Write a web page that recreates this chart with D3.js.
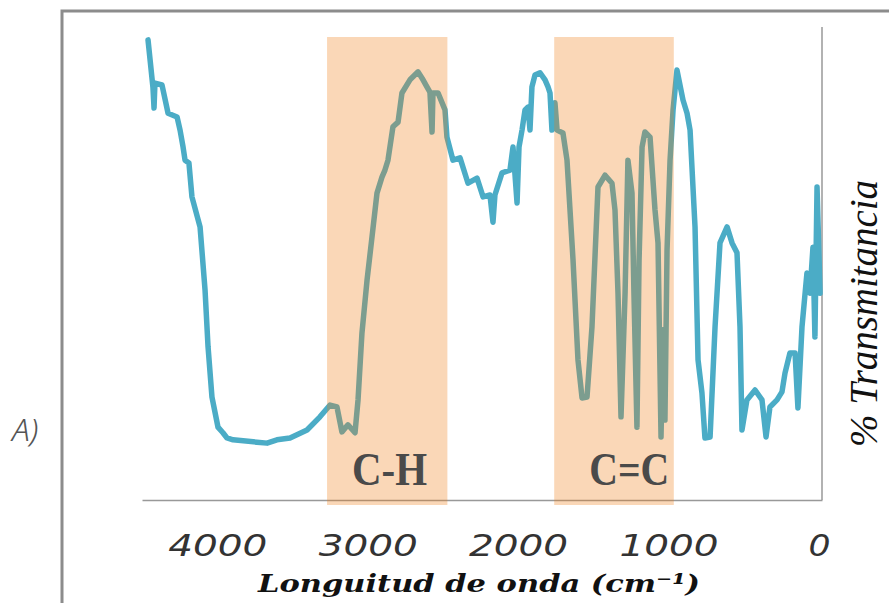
<!DOCTYPE html>
<html>
<head>
<meta charset="utf-8">
<script src="https://cdn.jsdelivr.net/npm/d3@7"></script>
<style>
  body { margin: 0; background: #fff; }
  svg { display: block; }
</style>
</head>
<body>
<svg id="chart"></svg>
<script>
// IR spectrum: wavenumber (cm-1) and % transmittance
const wavenumber = [4460, 4427, 4420, 4414, 4367, 4327, 4267, 4247, 4227, 4214, 4188, 4168, 4114, 4081, 4061, 4035,
  3995, 3962, 3935, 3895, 3736, 3669, 3603, 3516, 3403, 3317, 3250, 3204, 3171, 3131, 3084, 3064, 3038, 3004,
  2971, 2938, 2905, 2885, 2865, 2832, 2798, 2772, 2719, 2665, 2632, 2606, 2586, 2572, 2566, 2532, 2486, 2473,
  2433, 2386, 2333, 2273, 2233, 2187, 2167, 2154, 2107, 2054, 2034, 2007, 1994, 1974, 1954, 1934, 1921, 1908,
  1888, 1854, 1821, 1801, 1788, 1775, 1755, 1741, 1702, 1675, 1635, 1602, 1575, 1542, 1509, 1469, 1422, 1376,
  1356, 1336, 1316, 1289, 1270, 1243, 1230, 1210, 1196, 1176, 1157, 1123, 1090, 1070, 1050, 1037, 1024, 1010,
  990, 970, 944, 904, 877, 857, 824, 804, 778, 758, 724, 691, 658, 611, 578, 545, 525, 512, 479, 425, 379, 352,
  326, 279, 246, 226, 193, 159, 140, 113, 80, 60, 40, 27, 13, -7];
const transmittance = [97.9, 87.7, 83.4, 88.7, 88.3, 82.3, 81.5, 78.7, 75.1, 72.3, 71.7, 64.5, 58.1, 44.7, 32.6, 21.9,
  15.5, 14.3, 13.2, 12.8, 12.3, 12.1, 12.8, 13.2, 14.9, 17.7, 20.2, 19.8, 14.5, 16.0, 14.3, 21.3, 35.5, 46.8,
  56.0, 65.3, 68.7, 70.2, 72.3, 79.4, 80.4, 86.6, 89.4, 91.1, 89.4, 87.9, 86.8, 78.3, 86.6, 86.6, 83.0, 77.2,
  72.3, 72.8, 67.4, 68.5, 64.5, 64.9, 59.1, 64.9, 69.6, 70.2, 75.1, 63.2, 75.1, 78.7, 83.0, 83.6, 78.7, 87.9,
  90.4, 90.9, 89.4, 87.9, 86.6, 78.7, 84.5, 78.7, 78.1, 72.3, 51.1, 29.8, 21.7, 21.9, 36.8, 66.6, 69.1, 67.4,
  61.7, 44.0, 17.7, 44.0, 72.3, 65.3, 44.0, 15.5, 51.1, 75.1, 78.3, 77.2, 61.7, 54.7, 13.4, 36.2, 17.0, 53.2,
  72.3, 83.0, 91.5, 85.1, 82.3, 78.7, 58.1, 29.8, 22.8, 13.2, 13.4, 36.8, 54.7, 58.1, 54.7, 52.6, 36.8, 14.9,
  21.3, 23.4, 21.3, 13.4, 19.8, 21.3, 23.0, 27.0, 31.3, 31.3, 19.6, 36.8, 48.3, 44.0, 53.8, 34.7, 66.6, 44.0];

// highlighted regions
const bandNames = ["C-H", "C=C"];
const bandFrom = [3270, 1760];
const bandTo = [2470, 965];

const tickValues = [4000, 3000, 2000, 1000, 0];

const width = 889, height = 603;
const svg = d3.select("#chart").attr("width", width).attr("height", height);

const x = d3.scaleLinear().domain([4500, -20]).range([142, 822]);
const y = d3.scaleLinear().domain([0, 100]).range([500, 30]);

// outer frame (runs off the page right and bottom)
svg.append("path")
  .attr("d", "M62,620 L62,11 L900,11")
  .attr("fill", "none")
  .attr("stroke", "#8c8c8c")
  .attr("stroke-width", 3);

// right border of plot
svg.append("line")
  .attr("x1", 822).attr("x2", 822)
  .attr("y1", 27).attr("y2", 500)
  .attr("stroke", "#999")
  .attr("stroke-width", 1.5);

// x axis
const xAxis = svg.append("g")
  .attr("transform", "translate(0,500)")
  .call(d3.axisBottom(x).tickValues(tickValues).tickSize(0).tickFormat(d3.format("d")));
xAxis.select(".domain").attr("stroke", "#999").attr("stroke-width", 1.5);
xAxis.selectAll("text")
  .attr("y", 56).attr("dy", 0)
  .attr("fill", "#333")
  .style("font-family", "'DejaVu Sans', sans-serif")
  .style("font-style", "italic")
  .style("font-weight", "300")
  .style("font-size", "31px")
  .attr("textLength", d => d === 0 ? 22 : 99)
  .attr("lengthAdjust", "spacingAndGlyphs");

// spectrum
const line = d3.line()
  .x((d, i) => x(wavenumber[i]))
  .y(d => y(d));

svg.append("path")
  .datum(transmittance)
  .attr("d", line)
  .attr("fill", "none")
  .attr("stroke", "#4BACC6")
  .attr("stroke-width", 5.5)
  .attr("stroke-linejoin", "round")
  .attr("stroke-linecap", "round");

// bands on top of the line
svg.selectAll(".band")
  .data(bandNames)
  .enter()
  .append("rect")
    .classed("band", true)
    .attr("x", (d, i) => x(bandFrom[i]))
    .attr("width", (d, i) => x(bandTo[i]) - x(bandFrom[i]))
    .attr("y", 37)
    .attr("height", 468)
    .attr("fill", "#F07A10")
    .attr("fill-opacity", 0.3);

svg.selectAll(".bandLabel")
  .data(bandNames)
  .enter()
  .append("text")
    .classed("bandLabel", true)
    .attr("x", (d, i) => i === 0 ? x(bandFrom[i]) + 25 : x(bandFrom[i]) + 35)
    .attr("y", 485)
    .attr("fill", "#4a4a4a")
    .style("font-family", "'Liberation Serif', serif")
    .style("font-weight", "bold")
    .style("font-size", "46px")
    .attr("textLength", (d, i) => i === 0 ? 75 : 80)
    .attr("lengthAdjust", "spacingAndGlyphs")
    .text(d => d);

// axis titles
svg.append("text")
  .attr("x", 258)
  .attr("y", 592)
  .attr("fill", "#111")
  .style("font-family", "'DejaVu Serif', serif")
  .style("font-weight", "bold")
  .style("font-style", "italic")
  .style("font-size", "25px")
  .attr("textLength", 442)
  .attr("lengthAdjust", "spacingAndGlyphs")
  .text("Longuitud de onda (cm⁻¹)");

svg.append("text")
  .attr("transform", "translate(877,447) rotate(-90)")
  .attr("fill", "#111")
  .style("font-family", "'Liberation Serif', serif")
  .style("font-style", "italic")
  .style("font-size", "40px")
  .attr("textLength", 267)
  .attr("lengthAdjust", "spacingAndGlyphs")
  .text("% Transmitancia");

svg.append("text")
  .attr("x", 12)
  .attr("y", 441)
  .attr("fill", "#555")
  .style("font-family", "'Noto Sans', sans-serif")
  .style("font-style", "italic")
  .style("font-weight", "300")
  .style("font-size", "32px")
  .text("A)");
</script>
</body>
</html>
